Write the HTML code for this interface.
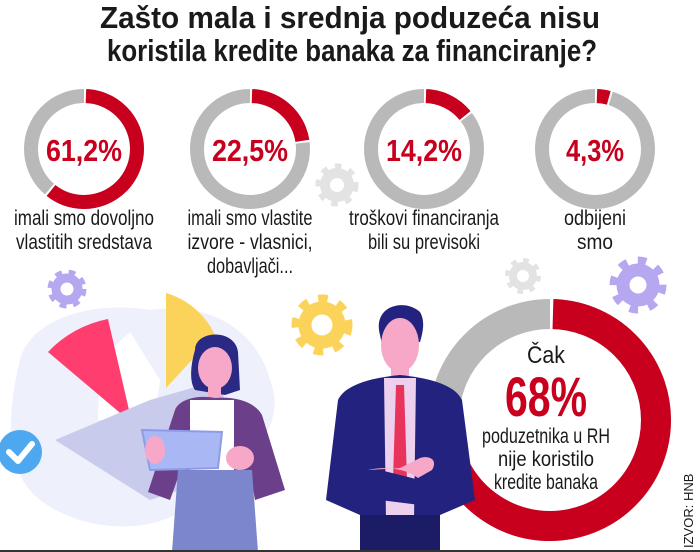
<!DOCTYPE html>
<html><head><meta charset="utf-8"><style>
html,body{margin:0;padding:0;background:#fff;}
svg{display:block;}
text{font-family:"Liberation Sans",sans-serif;}
</style></head><body>
<svg width="700" height="552" viewBox="0 0 700 552" xmlns="http://www.w3.org/2000/svg">
<rect width="700" height="552" fill="#fff"/>
<!-- title -->
<text x="350" y="28" text-anchor="middle" font-size="31" font-weight="bold" fill="#1a1a1a" textLength="500" lengthAdjust="spacingAndGlyphs">Zašto mala i srednja poduzeća nisu</text>
<text x="352" y="61" text-anchor="middle" font-size="31" font-weight="bold" fill="#1a1a1a" textLength="490" lengthAdjust="spacingAndGlyphs">koristila kredite banaka za financiranje?</text>

<!-- background blob -->
<path d="M20 360 C30 320 90 300 150 310 C220 300 260 340 270 380 C290 430 240 470 200 500 C150 540 80 530 40 500 C0 470 10 400 20 360Z" fill="#eef0fb"/>
<path d="M130 332 L100 360 L98 420 L155 420 L160 380Z" fill="#fff"/>
<path d="M48 352 A112 112 0 0 1 108 319 L132 423 Z" fill="#ff3d6e"/>
<path d="M166 293 A78 78 0 0 1 215 335 L166 388Z" fill="#fcd35a"/>
<path d="M55 440 L150 400 L220 380 L240 470 L150 500 Z" fill="#c9cbec"/>
<circle cx="20" cy="452" r="22" fill="#4ea8f0"/>
<path d="M9 452 L18 461 L32 444" stroke="#fff" stroke-width="6" fill="none" stroke-linecap="round" stroke-linejoin="round"/>

<!-- gears -->
<g fill="none">
<circle cx="67" cy="289" r="15" stroke="#b7a6f0" stroke-width="9" stroke-dasharray="6 6"/>
<circle cx="67" cy="289" r="11" stroke="#b7a6f0" stroke-width="9"/>
<circle cx="337" cy="185" r="17" stroke="#e3e3e3" stroke-width="9" stroke-dasharray="6 7"/>
<circle cx="337" cy="185" r="12" stroke="#e3e3e3" stroke-width="10"/>
<circle cx="322" cy="325" r="25" stroke="#fcd35a" stroke-width="11" stroke-dasharray="9 10"/>
<circle cx="322" cy="325" r="17" stroke="#fcd35a" stroke-width="13"/>
<circle cx="523" cy="276" r="14" stroke="#e3e3e3" stroke-width="8" stroke-dasharray="5 6"/>
<circle cx="523" cy="276" r="10" stroke="#e3e3e3" stroke-width="8"/>
<circle cx="638" cy="285" r="23" stroke="#b7a6f0" stroke-width="11" stroke-dasharray="8 10"/>
<circle cx="638" cy="285" r="15" stroke="#b7a6f0" stroke-width="13"/>
</g>

<!-- small donuts -->
<g fill="none" stroke-width="14">
<g transform="translate(84,149) rotate(-90)">
<circle r="53" stroke="#b9b9b9"/>
<circle r="53" stroke="#c8001e" stroke-dasharray="202 131"/>
<circle r="53" stroke="#fff" stroke-width="15" stroke-dasharray="2 200 2 129"/>
</g>
<g transform="translate(250,149) rotate(-90)">
<circle r="53" stroke="#b9b9b9"/>
<circle r="53" stroke="#c8001e" stroke-dasharray="75 258"/>
<circle r="53" stroke="#fff" stroke-width="15" stroke-dasharray="2 73 2 256"/>
</g>
<g transform="translate(424,149) rotate(-90)">
<circle r="53" stroke="#b9b9b9"/>
<circle r="53" stroke="#c8001e" stroke-dasharray="47 286"/>
<circle r="53" stroke="#fff" stroke-width="15" stroke-dasharray="2 45 2 284"/>
</g>
<g transform="translate(595,149) rotate(-90)">
<circle r="53" stroke="#b9b9b9"/>
<circle r="53" stroke="#c8001e" stroke-dasharray="14 319"/>
<circle r="53" stroke="#fff" stroke-width="15" stroke-dasharray="2 12 2 317"/>
</g>
</g>
<g font-size="31" font-weight="bold" fill="#c8001e" text-anchor="middle">
<text x="84" y="161" textLength="76" lengthAdjust="spacingAndGlyphs">61,2%</text>
<text x="250" y="161" textLength="76" lengthAdjust="spacingAndGlyphs">22,5%</text>
<text x="424" y="161" textLength="76" lengthAdjust="spacingAndGlyphs">14,2%</text>
<text x="595" y="161" textLength="58" lengthAdjust="spacingAndGlyphs">4,3%</text>
</g>
<g font-size="21" fill="#1a1a1a" text-anchor="middle">
<text x="84" y="225" textLength="140" lengthAdjust="spacingAndGlyphs">imali smo dovoljno</text>
<text x="84" y="249" textLength="136" lengthAdjust="spacingAndGlyphs">vlastitih sredstava</text>
<text x="250" y="225" textLength="125" lengthAdjust="spacingAndGlyphs">imali smo vlastite</text>
<text x="250" y="249" textLength="125" lengthAdjust="spacingAndGlyphs">izvore - vlasnici,</text>
<text x="250" y="273" textLength="86" lengthAdjust="spacingAndGlyphs">dobavljači...</text>
<text x="424" y="225" textLength="150" lengthAdjust="spacingAndGlyphs">troškovi financiranja</text>
<text x="424" y="249" textLength="112" lengthAdjust="spacingAndGlyphs">bili su previsoki</text>
<text x="595" y="225" textLength="62" lengthAdjust="spacingAndGlyphs">odbijeni</text>
<text x="595" y="249" textLength="36" lengthAdjust="spacingAndGlyphs">smo</text>
</g>

<!-- big donut -->
<g transform="translate(550,420) rotate(-90)" fill="none" stroke-width="30">
<circle r="106" stroke="#b9b9b9"/>
<circle r="106" stroke="#c8001e" stroke-dasharray="453 213"/>
<circle r="106" stroke="#fff" stroke-width="31" stroke-dasharray="3 450 3 210"/>
</g>
<text x="546" y="363" text-anchor="middle" font-size="24" fill="#1a1a1a" textLength="38" lengthAdjust="spacingAndGlyphs">Čak</text>
<text x="546" y="416" text-anchor="middle" font-size="56" font-weight="bold" fill="#c8001e" textLength="82" lengthAdjust="spacingAndGlyphs">68%</text>
<g font-size="21" fill="#1a1a1a" text-anchor="middle">
<text x="546" y="443" textLength="128" lengthAdjust="spacingAndGlyphs">poduzetnika u RH</text>
<text x="546" y="466" textLength="96" lengthAdjust="spacingAndGlyphs">nije koristilo</text>
<text x="546" y="489" textLength="104" lengthAdjust="spacingAndGlyphs">kredite banaka</text>
</g>

<!-- woman -->
<path d="M195 350 C195 330 235 328 238 352 L240 390 L225 395 L195 390 C188 380 192 360 195 350Z" fill="#2a2a85"/>
<ellipse cx="215" cy="368" rx="17" ry="21" fill="#f7a8c8"/>
<rect x="208" y="383" width="13" height="16" fill="#f7a8c8"/>
<path d="M175 410 C180 398 200 395 215 398 C235 396 255 402 262 415 L285 490 L255 500 L250 472 L180 472 L170 500 L148 492 Z" fill="#6c3f8a"/>
<rect x="190" y="400" width="44" height="72" fill="#fff"/>
<path d="M178 470 L252 470 L258 552 L172 552 Z" fill="#7b86cc"/>
<path d="M142 430 L222 432 L218 468 L150 470 Z" fill="#a9b8f5" stroke="#8e9ce8" stroke-width="2"/>
<ellipse cx="240" cy="458" rx="14" ry="12" fill="#f7a8c8"/>
<ellipse cx="155" cy="450" rx="10" ry="14" fill="#f7a8c8"/>

<!-- man -->
<path d="M380 335 C372 305 405 298 420 312 C426 322 422 335 420 342 L382 345Z" fill="#23237f"/>
<ellipse cx="400" cy="345" rx="19" ry="27" fill="#f7a8c8"/>
<rect x="391" y="362" width="18" height="22" fill="#f7a8c8"/>
<path d="M338 400 C345 385 370 378 400 375 C430 378 455 385 462 400 L475 500 L440 515 L440 552 L360 552 L360 515 L326 500 Z" fill="#23237f"/>
<path d="M384 378 L416 378 L414 520 L386 520 Z" fill="#ecd0ee"/>
<path d="M396 385 L404 385 L407 480 L400 488 L393 480 Z" fill="#e8335a"/>
<rect x="360" y="515" width="80" height="37" fill="#1c1c66"/>
<path d="M332 470 L380 470 L420 480 L440 465 L470 470 L470 500 L420 505 L380 500 L330 500 Z" fill="#23237f"/>
<path d="M368 470 C385 466 405 468 418 478 L432 470 C438 460 430 455 420 458 L400 468 Z" fill="#f7a8c8"/>

<!-- source -->
<text transform="translate(693,548) rotate(-90)" font-size="13" fill="#1a1a1a">IZVOR: HNB</text>
<line x1="0" y1="551" x2="700" y2="551" stroke="#333" stroke-width="2"/>
</svg>
</body></html>
